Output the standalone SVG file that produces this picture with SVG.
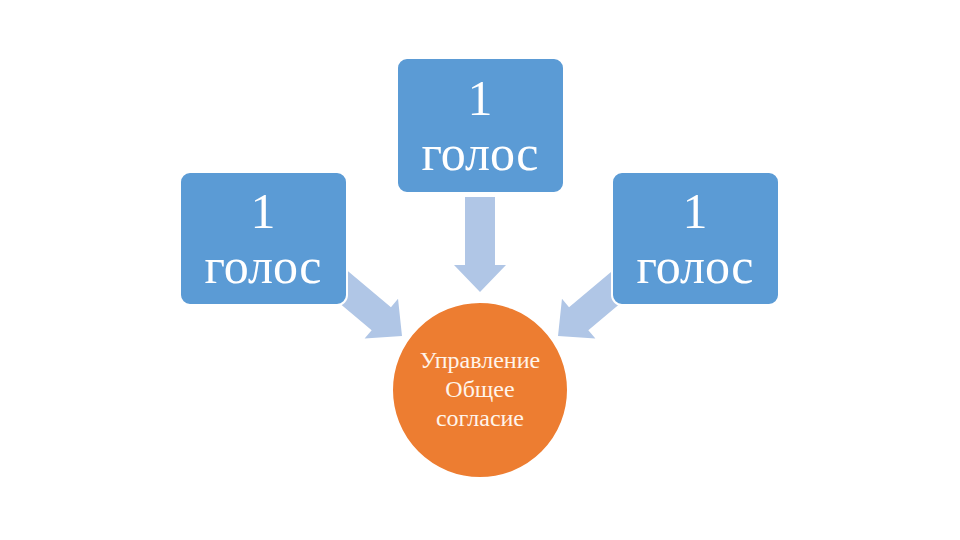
<svg xmlns="http://www.w3.org/2000/svg" width="960" height="540" viewBox="0 0 960 540">
<defs>
<style>
.box{fill:#5B9BD5;stroke:#FFFFFF;stroke-width:2}
.arrow{fill:#B0C6E6}
.big{font-family:"Liberation Serif","Times New Roman",serif;font-size:50px;fill:#FFFFFF;text-anchor:middle}
.small{font-family:"Liberation Serif","Times New Roman",serif;font-size:24px;fill:#FFF4EA;text-anchor:middle}
</style>
<polygon id="arr" points="0,0 -27,-26 -27,-15 -95,-15 -95,15 -27,15 -27,26"/>
</defs>
<rect width="960" height="540" fill="#FFFFFF"/>
<g id="connectors">
<use href="#arr" class="arrow" transform="translate(480,292) rotate(90)"/>
<use href="#arr" class="arrow" transform="translate(402,336) rotate(40)"/>
<use href="#arr" class="arrow" transform="translate(558,336) rotate(140)"/>
</g>
<g id="box-left">
<rect class="box" x="180" y="172" width="167" height="133" rx="10"/>
<text class="big" x="263" y="228">1</text>
<text class="big" x="263" y="283">голос</text>
</g>
<g id="box-top">
<rect class="box" x="397" y="58" width="167" height="135" rx="10"/>
<text class="big" x="480" y="115">1</text>
<text class="big" x="480" y="170">голос</text>
</g>
<g id="box-right">
<rect class="box" x="612" y="172" width="167" height="133" rx="10"/>
<text class="big" x="695" y="228">1</text>
<text class="big" x="695" y="283">голос</text>
</g>
<g id="center">
<circle cx="480" cy="390" r="88" fill="#ED7D31" stroke="#FFFFFF" stroke-width="2"/>
<text class="small" x="480" y="368">Управление</text>
<text class="small" x="480" y="397">Общее</text>
<text class="small" x="480" y="426">согласие</text>
</g>
</svg>
